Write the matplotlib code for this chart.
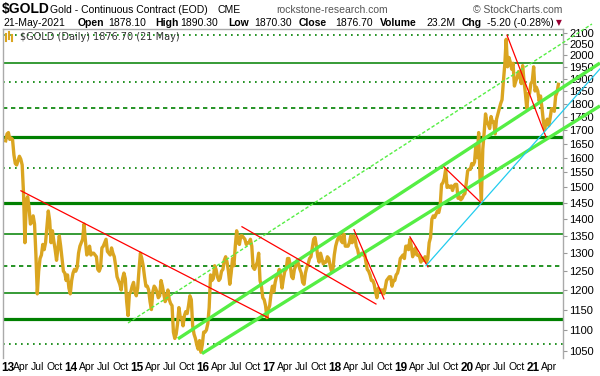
import numpy as np
import matplotlib
matplotlib.use("Agg")
import matplotlib.pyplot as plt
import matplotlib.transforms as mtransforms
from matplotlib.ticker import FixedLocator, FixedFormatter, NullLocator

plt.rcParams['font.family'] = ['Liberation Sans', 'DejaVu Sans']

# gold, roughly weekly closes, 4 per month from Jan 2013 (last month partial)
start_year = 2013
prices = [
    # 2013
    1660, 1685, 1690, 1665, 1670, 1665, 1610, 1580, 1575, 1590, 1605, 1595,
    1575, 1480, 1330, 1460, 1470, 1435, 1385, 1390, 1410, 1385, 1295, 1190,
    1250, 1285, 1295, 1325, 1310, 1330, 1375, 1425, 1395, 1330, 1365, 1335,
    1310, 1280, 1315, 1350, 1320, 1285, 1250, 1245, 1225, 1240, 1205, 1190,
    # 2014
    1225, 1245, 1255, 1250, 1260, 1300, 1320, 1330, 1340, 1385, 1335, 1295,
    1300, 1320, 1295, 1300, 1300, 1295, 1290, 1255, 1250, 1260, 1315, 1320,
    1330, 1340, 1305, 1300, 1295, 1315, 1300, 1290, 1265, 1235, 1225, 1215,
    1200, 1230, 1245, 1230, 1170, 1135, 1190, 1195, 1210, 1220, 1195, 1185,
    # 2015
    1205, 1255, 1300, 1285, 1265, 1235, 1210, 1210, 1200, 1170, 1150, 1195,
    1210, 1205, 1195, 1180, 1185, 1225, 1210, 1190, 1170, 1180, 1200, 1175,
    1165, 1160, 1095, 1080, 1090, 1115, 1155, 1130, 1130, 1110, 1135, 1145,
    1140, 1160, 1185, 1175, 1110, 1090, 1080, 1065, 1055, 1075, 1048, 1065,
    # 2016
    1095, 1095, 1100, 1115, 1155, 1240, 1225, 1230, 1265, 1255, 1235, 1225,
    1230, 1250, 1255, 1280, 1290, 1275, 1250, 1215, 1245, 1285, 1265, 1320,
    1365, 1330, 1325, 1350, 1350, 1345, 1340, 1325, 1330, 1330, 1340, 1320,
    1260, 1255, 1265, 1275, 1300, 1225, 1210, 1180, 1175, 1160, 1130, 1150,
    # 2017
    1160, 1190, 1210, 1195, 1220, 1235, 1240, 1255, 1235, 1205, 1230, 1250,
    1255, 1285, 1285, 1265, 1235, 1230, 1255, 1265, 1280, 1270, 1255, 1245,
    1220, 1215, 1245, 1260, 1270, 1285, 1290, 1315, 1340, 1345, 1320, 1290,
    1275, 1300, 1285, 1270, 1275, 1275, 1290, 1285, 1265, 1250, 1255, 1295,
    # 2018
    1320, 1335, 1345, 1355, 1335, 1330, 1355, 1320, 1320, 1320, 1330, 1350,
    1330, 1350, 1345, 1320, 1310, 1290, 1295, 1300, 1295, 1300, 1275, 1255,
    1250, 1240, 1225, 1225, 1215, 1195, 1180, 1205, 1200, 1200, 1200, 1190,
    1205, 1225, 1230, 1235, 1235, 1210, 1225, 1225, 1240, 1245, 1260, 1285,
    # 2019
    1290, 1295, 1285, 1320, 1320, 1310, 1340, 1320, 1290, 1305, 1315, 1295,
    1295, 1290, 1275, 1285, 1280, 1290, 1275, 1285, 1330, 1345, 1400, 1410,
    1405, 1415, 1425, 1420, 1440, 1510, 1515, 1530, 1560, 1500, 1505, 1500,
    1505, 1490, 1505, 1510, 1510, 1465, 1470, 1460, 1465, 1475, 1480, 1515,
    # 2020
    1555, 1560, 1560, 1580, 1575, 1585, 1645, 1600, 1690, 1530, 1460, 1630,
    1690, 1760, 1730, 1720, 1705, 1750, 1730, 1730, 1685, 1740, 1760, 1780,
    1800, 1815, 1890, 1960, 2070, 1950, 1990, 1970, 1940, 1965, 1870, 1890,
    1905, 1930, 1910, 1880, 1955, 1890, 1840, 1780, 1840, 1840, 1880, 1890,
    # 2021
    1950, 1850, 1865, 1850, 1810, 1830, 1785, 1735, 1700, 1730, 1740, 1715,
    1745, 1780, 1780, 1770, 1830, 1845, 1877,
]
dates = [start_year + (i // 4) / 12 + ((i % 4) + 0.5) / 48 for i in range(len(prices))]

# horizontal levels: (price, style)
level_prices = [2090, 1967, 1887, 1782, 1675, 1566, 1451, 1355, 1263, 1192, 1126, 1066]
level_styles = ['dot', 'thin', 'dot', 'dash', 'thick', 'dot', 'thick', 'thin',
                'dash', 'thin', 'thick', 'dot']

# drawn trend lines: (year0, price0, year1, price1)
red_lines = [
    (2013.242, 1489, 2016.985, 1130),
    (2016.591, 1377, 2018.621, 1164),
    (2018.288, 1368, 2018.742, 1177),
    (2019.136, 1347, 2019.409, 1262),
    (2019.652, 1568, 2020.212, 1451),
    (2020.606, 2089, 2021.197, 1674),
]
cyan_line = (2019.379, 1265, 2022.015, 1941)
channel_lines = [
    (2015.621, 1079, 2022.015, 1966),
    (2015.985, 1045, 2022.015, 1791),
]
channel_dashed = (2014.864, 1117, 2021.894, 2140)

yticks = list(range(1050, 2101, 50))
years = list(range(2013, 2022))

fig = plt.figure(figsize=(6, 3.76), dpi=100)
ax = fig.add_axes([3 / 600, 1 - 358 / 376, 560 / 600, 329 / 376])

dark_green = '#008000'
for p, s in zip(level_prices, level_styles):
    if s == 'thick':
        ax.axhline(p, color=dark_green, lw=2.3, zorder=1)
    elif s == 'thin':
        ax.axhline(p, color=dark_green, lw=1.1, zorder=1)
    elif s == 'dash':
        ax.axhline(p, color=dark_green, lw=1.2, ls=(0, (2.6, 2.2)), zorder=1)
    else:
        ax.axhline(p, color=dark_green, lw=1.2, ls=(0, (1, 2.6)), zorder=1)

ax.plot(dates, prices, color='#DAA520', lw=2.4, zorder=2)

for x0, y0, x1, y1 in channel_lines:
    ax.plot([x0, x1], [y0, y1], color='#55EE44', lw=2.4, zorder=3,
            clip_on=False, solid_capstyle='butt')
x0, y0, x1, y1 = channel_dashed
ax.plot([x0, x1], [y0, y1], color='#55EE44', lw=1.0, ls=(0, (2.5, 1.5)),
        zorder=3, clip_on=False)
for x0, y0, x1, y1 in red_lines:
    ax.plot([x0, x1], [y0, y1], color='#FF0000', lw=0.9, zorder=4)
x0, y0, x1, y1 = cyan_line
ax.plot([x0, x1], [y0, y1], color='#22CCEE', lw=0.9, zorder=4, clip_on=False)

ax.set_yscale('log')
ax.set_ylim(1035, 2117)
ax.set_xlim(2012.97, 2021.455)
ax.yaxis.tick_right()
ax.yaxis.set_major_locator(FixedLocator(yticks))
ax.yaxis.set_major_formatter(FixedFormatter([str(t) for t in yticks]))
ax.yaxis.set_minor_locator(NullLocator())
ax.tick_params(axis='y', labelsize=8, length=3, width=0.8, color='#999999',
               pad=1.5, labelcolor='black')

xt, xl = [], []
for y in years:
    for k, m in enumerate(['', 'Apr', 'Jul', 'Oct']):
        if y + k * 0.25 > 2021.4:
            continue
        xt.append(y + k * 0.25)
        xl.append(str(y)[2:] if k == 0 else m)
ax.set_xticks(xt)
ax.set_xticklabels(xl)
ax.xaxis.set_minor_locator(NullLocator())
ax.tick_params(axis='x', labelsize=7.5, length=0, pad=3)
for lab in ax.get_xticklabels():
    if lab.get_text().isdigit():
        lab.set_fontweight('bold')
        lab.set_fontsize(8.5)
# first year label sits at the left edge, nudge it in a little
first = ax.get_xticklabels()[0]
first.set_transform(first.get_transform() +
                    mtransforms.ScaledTranslation(2.5 / 100, 0, fig.dpi_scale_trans))

for side in ['left', 'top', 'right']:
    ax.spines[side].set_color('#AAAAAA')
    ax.spines[side].set_linewidth(1.0)
ax.spines['bottom'].set_visible(False)

# legend inside plot
ax.plot([0.006, 0.006], [0.985, 0.965], transform=ax.transAxes, color='#DAA520', lw=1.5)
ax.plot([0.011, 0.011], [0.99, 0.97], transform=ax.transAxes, color='#DAA520', lw=1.5)
ax.plot([0.016, 0.016], [0.983, 0.963], transform=ax.transAxes, color='#DAA520', lw=1.5)
ax.text(0.03, 0.975, '$GOLD (Daily) 1876.70 (21 May)', transform=ax.transAxes,
        fontsize=7, family='DejaVu Sans', color='#333333', va='center', ha='left')

# header
def htxt(x, y, s, **kw):
    fig.text(x / 600, 1 - y / 376, s, va='baseline', ha='left', **kw)

htxt(2, 13, '$GOLD', fontsize=10, fontweight='bold')
htxt(50, 13, 'Gold - Continuous Contract (EOD)', fontsize=7.5)
htxt(217, 13, 'CME', fontsize=7.5)
htxt(276, 13, 'rockstone-research.com', fontsize=7.5, color='#555555')
htxt(473, 13, '\u00a9 StockCharts.com', fontsize=7.5, color='#555555')

row2 = [(3, '21-May-2021', 'normal'), (78, 'Open', 'bold'), (108, '1878.10', 'normal'),
        (155, 'High', 'bold'), (180, '1890.30', 'normal'), (228, 'Low', 'bold'),
        (254, '1870.30', 'normal'), (299, 'Close', 'bold'), (335, '1876.70', 'normal'),
        (380, 'Volume', 'bold'), (426, '23.2M', 'normal'), (462, 'Chg', 'bold'),
        (487, '-5.20 (-0.28%)', 'normal')]
for x, s, w in row2:
    htxt(x, 26, s, fontsize=7.5, fontweight=w)
htxt(556, 25, '\u25bc', fontsize=5.5, color='#990033', family='DejaVu Sans')

fig.savefig('out.png', dpi=100)
